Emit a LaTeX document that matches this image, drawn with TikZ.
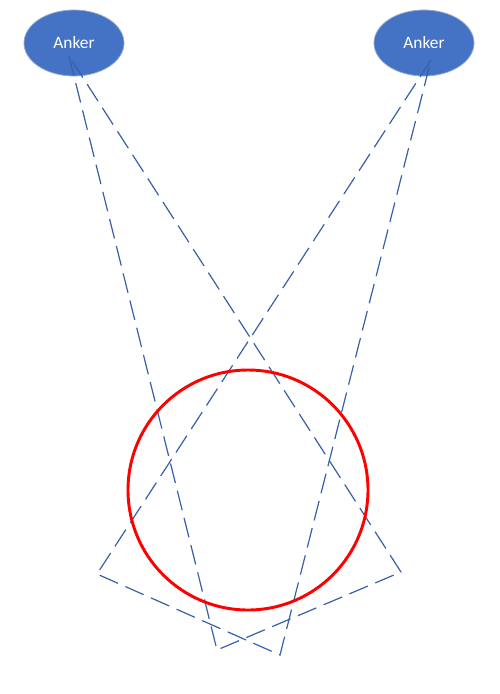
\documentclass[tikz,border=0pt]{standalone}
\usepackage{fontspec}
\setmainfont{Carlito}
\usepackage{tikz}
\usetikzlibrary{shapes.geometric}

\begin{document}
\begin{tikzpicture}[x=0.75pt,y=-0.75pt]
  \definecolor{colAnker}{RGB}{68,114,196}
  \definecolor{colRope} {RGB}{55,95,170}
  \definecolor{colRim}  {RGB}{150,170,205}
  \definecolor{colRing} {RGB}{255,0,0}
  \tikzset{
    anker/.style={ellipse,fill=colAnker,draw=colRim,line width=0.6pt,
      minimum width=75pt,minimum height=49.5pt,inner sep=0pt,
      text=white,font=\fontsize{13}{15}\selectfont},
    rope/.style={colRope,line width=0.9pt,dash pattern=on 15pt off 6pt},
    ring/.style={colRing,line width=2.2pt}
  }
  \useasboundingbox (0,0) rectangle (500,694);
  \node[anker] (ankerL) at (74,43) {Anker};
  \node[anker] (ankerR) at (424,43) {Anker};
  % rope ends
  \coordinate (tipL) at (69,56);
  \coordinate (tipR) at (431,60);
  \coordinate (footA) at (97,574);
  \coordinate (footB) at (217,650);
  \coordinate (footC) at (280,655);
  \coordinate (footD) at (401,572);
  \draw[rope] (tipL)--(footB)--(footD)--(tipL);
  \draw[rope] (tipR)--(footA)--(footC)--(tipR);
  \draw[ring] (248,490) circle[radius=120];
\end{tikzpicture}
\end{document}
